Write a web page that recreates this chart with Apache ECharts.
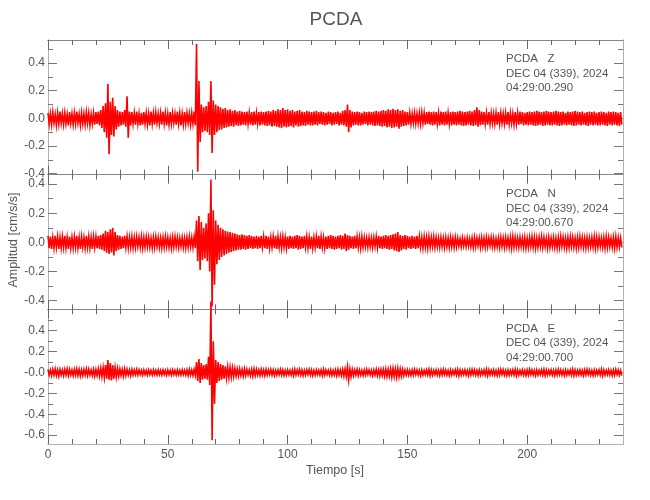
<!DOCTYPE html>
<html><head><meta charset="utf-8">
<script src="https://cdn.jsdelivr.net/npm/echarts@6/dist/echarts.min.js"></script>
<style>html,body{margin:0;padding:0;background:#fff}#c{width:650px;height:500px}</style>
</head><body><div id="c"></div>
<script>
// ---------- data ----------
const stationName = 'PCDA';
const components = ['Z', 'N', 'E'];
const dateLabel = 'DEC 04 (339), 2024';
const startTimes = ['04:29:00.290', '04:29:00.670', '04:29:00.700'];
const xTitle = 'Tiempo [s]';
const yTitle = 'Amplitud [cm/s/s]';
const xMajorTicks = [0, 50, 100, 150, 200];
const xMinorTicks = [10,20,30,40,60,70,80,90,110,120,130,140,160,170,180,190,210,220,230];
const yMajorTicks = [[-0.4,-0.2,0,0.2,0.4],[-0.4,-0.2,0,0.2,0.4],[-0.6,-0.4,-0.2,0,0.2,0.4]];
const yMinorTicks = [[-0.3,-0.1,0.1,0.3,0.5],[-0.3,-0.1,0.1,0.3],[-0.5,-0.3,-0.1,0.1,0.3,0.5]];
const yMins = [-0.407, -0.459, -0.685];
const yMaxs = [0.567, 0.464, 0.605];

// per-second positive / negative peaks of each trace (t = 0..239 s)
const zUp = [
.04,.035,.045,.03,.04,.05,.035,.04,.03,.045, .035,.04,.05,.03,.04,.035,.045,.04,.03,.04,
.045,.05,.06,.09,.11,.25,.12,.15,.09,.06, .05,.045,.06,.16,.05,.045,.04,.05,.035,.04,
.045,.04,.035,.05,.04,.045,.035,.04,.05,.04, .035,.045,.04,.035,.05,.04,.035,.045,.04,.035,
.04,.05,.54,.27,.1,.08,.09,.12,.27,.13, .1,.09,.08,.07,.075,.06,.065,.055,.06,.05,
.055,.05,.045,.05,.04,.045,.05,.04,.045,.05, .045,.05,.055,.05,.06,.055,.065,.06,.075,.06,
.065,.055,.06,.05,.055,.06,.05,.045,.055,.05, .045,.05,.055,.045,.05,.045,.04,.05,.045,.04,
.045,.05,.04,.055,.06,.1,.06,.05,.045,.05, .045,.04,.05,.045,.05,.045,.05,.055,.05,.055,
.06,.055,.065,.06,.07,.06,.065,.055,.06,.05, .045,.04,.035,.04,.035,.04,.045,.04,.045,.05,
.045,.05,.045,.04,.05,.045,.05,.04,.045,.05, .045,.05,.055,.05,.045,.05,.055,.05,.06,.08,
.06,.05,.045,.04,.045,.04,.035,.04,.045,.04, .035,.04,.045,.04,.035,.045,.04,.05,.045,.04,
.045,.05,.045,.05,.055,.05,.045,.05,.055,.05, .045,.05,.055,.05,.045,.05,.04,.05,.045,.05,
.055,.05,.045,.05,.04,.045,.05,.045,.05,.04, .045,.05,.045,.04,.05,.045,.05,.045,.04,.045];
const zDn = [
-.04,-.045,-.035,-.05,-.04,-.035,-.045,-.04,-.05,-.035, -.045,-.04,-.035,-.05,-.04,-.045,-.035,-.05,-.04,-.045,
-.04,-.05,-.07,-.1,-.14,-.26,-.12,-.13,-.08,-.06, -.05,-.045,-.06,-.14,-.05,-.04,-.045,-.04,-.05,-.045,
-.04,-.045,-.05,-.04,-.045,-.035,-.04,-.045,-.04,-.05, -.045,-.04,-.035,-.045,-.04,-.05,-.045,-.04,-.035,-.045,
-.04,-.05,-.385,-.17,-.1,-.09,-.1,-.12,-.25,-.12, -.1,-.085,-.08,-.07,-.065,-.06,-.055,-.06,-.05,-.055,
-.05,-.045,-.05,-.04,-.045,-.05,-.045,-.04,-.05,-.045, -.05,-.055,-.05,-.06,-.055,-.06,-.065,-.07,-.06,-.065,
-.06,-.055,-.065,-.05,-.06,-.055,-.05,-.055,-.045,-.05, -.05,-.045,-.05,-.04,-.045,-.05,-.045,-.04,-.05,-.045,
-.04,-.05,-.045,-.05,-.06,-.1,-.065,-.05,-.045,-.05, -.05,-.045,-.04,-.05,-.045,-.05,-.055,-.05,-.055,-.06,
-.055,-.065,-.06,-.07,-.065,-.06,-.075,-.06,-.055,-.05, -.045,-.04,-.035,-.04,-.035,-.04,-.035,-.045,-.04,-.045,
-.05,-.045,-.04,-.05,-.045,-.05,-.045,-.04,-.05,-.045, -.05,-.045,-.05,-.055,-.05,-.045,-.05,-.055,-.05,-.06,
-.05,-.045,-.04,-.045,-.04,-.035,-.04,-.045,-.04,-.035, -.04,-.045,-.04,-.035,-.045,-.04,-.045,-.04,-.05,-.045,
-.05,-.045,-.05,-.055,-.05,-.045,-.055,-.05,-.045,-.05, -.05,-.045,-.05,-.055,-.05,-.045,-.05,-.045,-.05,-.055,
-.05,-.045,-.05,-.045,-.05,-.055,-.045,-.05,-.045,-.05, -.05,-.045,-.05,-.055,-.045,-.05,-.045,-.05,-.055,-.045];
const nUp = [
.045,.04,.035,.045,.04,.035,.04,.045,.035,.04, .035,.04,.045,.035,.04,.035,.045,.04,.035,.04,
.04,.045,.05,.06,.08,.07,.09,.1,.07,.05, .045,.04,.045,.04,.035,.04,.035,.04,.035,.04,
.035,.04,.035,.03,.035,.04,.035,.03,.035,.04, .035,.03,.035,.04,.035,.03,.035,.03,.035,.04,
.035,.04,.15,.18,.14,.1,.13,.2,.43,.22, .15,.12,.1,.09,.08,.075,.07,.065,.06,.055,
.05,.055,.05,.045,.05,.045,.04,.045,.04,.045, .04,.045,.04,.035,.04,.045,.04,.035,.04,.035,
.04,.045,.04,.045,.05,.045,.04,.045,.04,.035, .04,.035,.04,.045,.04,.035,.04,.045,.05,.045,
.04,.045,.05,.045,.06,.05,.045,.04,.045,.04, .035,.04,.035,.03,.035,.03,.035,.04,.045,.04,
.045,.05,.045,.05,.055,.06,.07,.05,.045,.05, .045,.04,.045,.04,.045,.04,.035,.04,.035,.04,
.035,.04,.035,.03,.035,.03,.035,.03,.035,.03, .035,.03,.025,.03,.025,.03,.025,.03,.035,.03,
.03,.035,.03,.035,.03,.035,.03,.025,.03,.035, .03,.035,.03,.035,.04,.035,.03,.035,.03,.035,
.03,.035,.04,.035,.03,.035,.04,.035,.03,.035, .03,.035,.03,.035,.04,.035,.03,.035,.04,.035,
.03,.035,.04,.035,.03,.035,.03,.035,.04,.035, .035,.03,.035,.04,.035,.03,.035,.04,.035,.03];
const nDn = [
-.04,-.045,-.04,-.035,-.045,-.04,-.035,-.04,-.045,-.04, -.04,-.035,-.04,-.045,-.035,-.04,-.035,-.04,-.045,-.035,
-.04,-.045,-.05,-.06,-.07,-.08,-.07,-.09,-.06,-.05, -.045,-.04,-.035,-.04,-.035,-.04,-.035,-.03,-.035,-.04,
-.035,-.03,-.035,-.04,-.035,-.03,-.035,-.04,-.035,-.03, -.035,-.04,-.035,-.03,-.035,-.03,-.035,-.04,-.035,-.03,
-.035,-.04,-.13,-.19,-.12,-.11,-.13,-.2,-.44,-.29, -.15,-.12,-.1,-.09,-.08,-.07,-.065,-.06,-.055,-.05,
-.05,-.045,-.05,-.045,-.04,-.045,-.04,-.045,-.04,-.035, -.04,-.045,-.04,-.035,-.04,-.045,-.035,-.04,-.035,-.04,
-.045,-.04,-.045,-.04,-.05,-.045,-.04,-.035,-.04,-.045, -.04,-.035,-.04,-.045,-.035,-.04,-.045,-.04,-.045,-.05,
-.045,-.04,-.05,-.045,-.06,-.05,-.04,-.045,-.04,-.035, -.04,-.035,-.03,-.035,-.03,-.035,-.03,-.035,-.04,-.045,
-.04,-.045,-.05,-.045,-.055,-.06,-.065,-.055,-.045,-.05, -.04,-.045,-.04,-.045,-.04,-.035,-.04,-.035,-.04,-.035,
-.03,-.035,-.03,-.035,-.03,-.035,-.03,-.035,-.03,-.035, -.03,-.025,-.03,-.025,-.03,-.025,-.03,-.035,-.03,-.025,
-.035,-.03,-.035,-.03,-.025,-.03,-.035,-.03,-.035,-.03, -.035,-.03,-.035,-.04,-.035,-.03,-.035,-.03,-.035,-.04,
-.035,-.03,-.035,-.04,-.035,-.03,-.035,-.03,-.04,-.035, -.03,-.035,-.04,-.035,-.03,-.035,-.04,-.035,-.03,-.035,
-.04,-.035,-.03,-.035,-.04,-.035,-.03,-.035,-.04,-.035, -.03,-.035,-.04,-.035,-.03,-.035,-.04,-.035,-.03,-.035];
const eUp = [
.03,.025,.03,.035,.025,.03,.025,.03,.035,.03, .025,.03,.035,.03,.025,.03,.035,.03,.025,.03,
.03,.035,.04,.05,.07,.12,.09,.07,.05,.04, .035,.03,.035,.03,.025,.03,.025,.03,.025,.02,
.025,.02,.025,.02,.025,.02,.025,.02,.025,.02, .025,.02,.025,.02,.025,.02,.025,.02,.025,.03,
.025,.03,.1,.13,.09,.07,.08,.15,.68,.3, .12,.1,.08,.07,.06,.055,.05,.045,.04,.035,
.035,.03,.035,.03,.025,.03,.035,.03,.025,.03, .025,.03,.025,.03,.025,.02,.025,.03,.025,.02,
.025,.02,.025,.03,.025,.03,.025,.02,.025,.03, .025,.02,.025,.02,.025,.03,.025,.02,.025,.02,
.025,.03,.025,.03,.035,.055,.035,.03,.025,.03, .025,.02,.025,.03,.025,.02,.025,.03,.025,.03,
.03,.035,.03,.035,.04,.035,.04,.035,.03,.025, .025,.02,.025,.03,.025,.02,.025,.02,.025,.03,
.025,.02,.025,.02,.025,.03,.025,.02,.025,.02, .025,.03,.025,.02,.025,.02,.025,.03,.025,.02,
.025,.02,.025,.03,.025,.02,.025,.02,.025,.03, .025,.02,.025,.02,.025,.03,.025,.02,.025,.02,
.025,.03,.025,.02,.025,.02,.025,.03,.025,.02, .025,.02,.025,.03,.025,.02,.025,.02,.025,.03,
.025,.02,.025,.02,.025,.03,.025,.02,.025,.02, .025,.03,.025,.02,.025,.02,.025,.03,.025,.02];
const eDn = [
-.025,-.03,-.025,-.03,-.035,-.025,-.03,-.025,-.03,-.025, -.03,-.025,-.03,-.035,-.03,-.025,-.03,-.025,-.03,-.035,
-.03,-.035,-.04,-.05,-.06,-.07,-.075,-.06,-.045,-.035, -.03,-.035,-.03,-.025,-.03,-.025,-.02,-.025,-.02,-.025,
-.02,-.025,-.02,-.025,-.02,-.025,-.02,-.025,-.02,-.025, -.02,-.025,-.02,-.025,-.02,-.025,-.02,-.025,-.03,-.025,
-.03,-.025,-.08,-.1,-.07,-.06,-.07,-.12,-.65,-.3, -.1,-.08,-.07,-.06,-.055,-.05,-.045,-.04,-.035,-.035,
-.03,-.035,-.03,-.025,-.03,-.035,-.03,-.025,-.03,-.025, -.03,-.025,-.02,-.025,-.03,-.025,-.02,-.025,-.03,-.025,
-.02,-.025,-.03,-.025,-.02,-.025,-.03,-.025,-.02,-.025, -.03,-.025,-.02,-.025,-.03,-.025,-.02,-.025,-.03,-.025,
-.03,-.025,-.03,-.035,-.04,-.07,-.04,-.03,-.025,-.03, -.025,-.03,-.025,-.02,-.025,-.03,-.025,-.03,-.035,-.03,
-.035,-.04,-.035,-.045,-.04,-.045,-.04,-.035,-.03,-.025, -.025,-.03,-.025,-.02,-.025,-.03,-.025,-.02,-.025,-.03,
-.025,-.02,-.025,-.03,-.025,-.02,-.025,-.03,-.025,-.02, -.025,-.03,-.025,-.02,-.025,-.03,-.025,-.02,-.025,-.03,
-.025,-.02,-.025,-.03,-.025,-.02,-.025,-.03,-.025,-.02, -.025,-.03,-.025,-.02,-.025,-.03,-.025,-.02,-.025,-.03,
-.025,-.02,-.025,-.03,-.025,-.02,-.025,-.03,-.025,-.02, -.025,-.03,-.025,-.02,-.025,-.03,-.025,-.02,-.025,-.03,
-.025,-.02,-.025,-.03,-.025,-.02,-.025,-.03,-.025,-.02, -.025,-.03,-.025,-.02,-.025,-.03,-.025,-.02,-.025,-.03];
const traces = [[zUp, zDn], [nUp, nDn], [eUp, eDn]];

// ---------- chart ----------
const FONT = '"Liberation Sans", "DejaVu Sans", sans-serif';
const TXT = '#555';
const gridLeft = 48, gridW = 575, gridTop0 = 40, gridH = 134.67;
const grids = [], xAxes = [], yAxes = [], series = [], graphics = [];

function xAxis(p, pos, ticks, len, labels) {
  return {
    type: 'value', gridIndex: p, position: pos, min: 0, max: 240,
    axisLine: {show: true, onZero: false, lineStyle: {color: pos === 'top' ? '#888' : '#b0b0b0', width: 1}},
    axisTick: {show: true, inside: true, length: len, customValues: ticks, lineStyle: {color: '#666', width: 1}},
    axisLabel: labels ? {show: true, customValues: xMajorTicks, margin: 5, color: TXT, fontFamily: FONT, fontSize: 12} : {show: false},
    splitLine: {show: false}, minorTick: {show: false}
  };
}
function yAxis(p, pos, ticks, len, labels) {
  return {
    type: 'value', gridIndex: p, position: pos, min: yMins[p], max: yMaxs[p],
    axisLine: {show: true, onZero: false, lineStyle: {color: '#b0b0b0', width: 1}},
    axisTick: {show: true, inside: true, length: len, customValues: ticks, lineStyle: {color: '#777', width: 1}},
    axisLabel: labels ? {
      show: true, customValues: yMajorTicks[p], margin: 3, color: TXT, fontFamily: FONT, fontSize: 12,
      formatter: v => (p === 2 && Math.abs(v) < 1e-9) ? '-0.0' : (Math.abs(v) < 1e-9 ? '0.0' : v.toFixed(1))
    } : {show: false},
    splitLine: {show: false}, minorTick: {show: false}
  };
}

for (let p = 0; p < 3; p++) {
  const top = gridTop0 + p * gridH;
  grids.push({left: gridLeft, top: top, width: gridW, height: gridH, containLabel: false});
  xAxes.push(xAxis(p, 'bottom', xMajorTicks, 9, p === 2));
  xAxes.push(xAxis(p, 'bottom', xMinorTicks, 5, false));
  xAxes.push(xAxis(p, 'top', xMajorTicks, 9, false));
  xAxes.push(xAxis(p, 'top', xMinorTicks, 5, false));
  yAxes.push(yAxis(p, 'left', yMajorTicks[p], 9, true));
  yAxes.push(yAxis(p, 'left', yMinorTicks[p], 5, false));
  yAxes.push(yAxis(p, 'right', yMajorTicks[p], 9, false));
  yAxes.push(yAxis(p, 'right', yMinorTicks[p], 5, false));

  const [up, dn] = traces[p];
  const data = [];
  for (let i = 0; i < up.length; i++) {
    data.push([i, up[i]]);
    data.push([i + 0.5, dn[i]]);
  }
  series.push({
    type: 'line', xAxisIndex: p * 4, yAxisIndex: p * 4, data: data,
    showSymbol: false, symbol: 'none', clip: false, silent: true,
    lineStyle: {color: '#ff0000', width: 1.6, join: 'miter'}, z: 1
  });

  graphics.push({
    type: 'text', x: 506, y: top + 12,
    style: {
      text: stationName + '   ' + components[p] + '\n' + dateLabel + '\n' + startTimes[p],
      font: '11.5px ' + FONT, fill: TXT, lineHeight: 14.5, align: 'left', verticalAlign: 'top'
    }
  });
}

graphics.push({type: 'text', x: 336, y: 20, style: {text: stationName, font: '19px "Liberation Sans Narrow", ' + FONT, fill: TXT, align: 'center', verticalAlign: 'middle'}});
graphics.push({type: 'text', x: 335, y: 471, style: {text: xTitle, font: '12.5px ' + FONT, fill: TXT, align: 'center', verticalAlign: 'middle'}});
graphics.push({type: 'text', x: 14, y: 240, rotation: Math.PI / 2, style: {text: yTitle, font: '12.5px ' + FONT, fill: TXT, align: 'center', verticalAlign: 'middle'}});

const chart = echarts.init(document.getElementById('c'), null, {renderer: 'canvas'});
chart.setOption({
  animation: false, backgroundColor: '#fff',
  grid: grids, xAxis: xAxes, yAxis: yAxes, series: series, graphic: graphics
});
</script></body></html>
